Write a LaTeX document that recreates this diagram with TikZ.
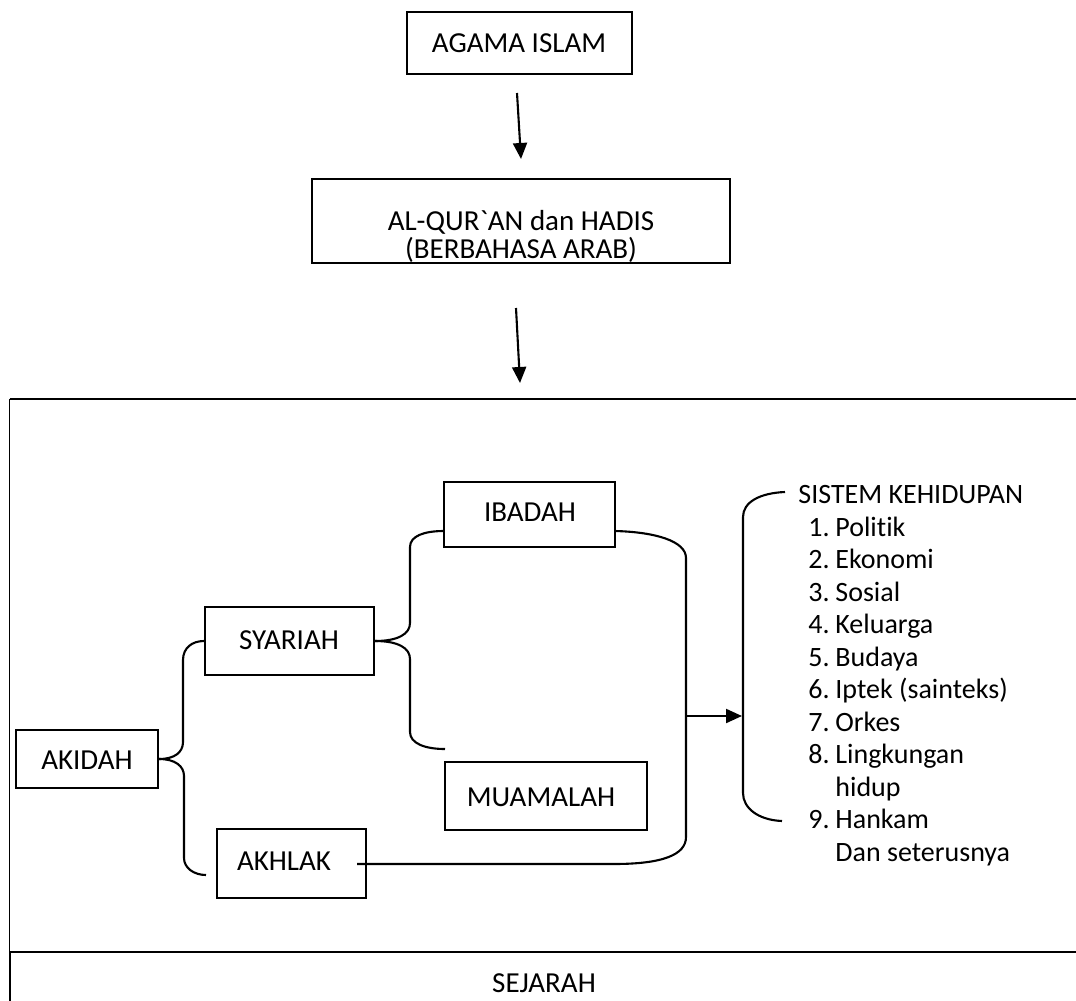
\documentclass[tikz,border=0pt]{standalone}
\usepackage{fontspec}
\setmainfont{Carlito}[Ligatures={TeXOff,NoCommon}]
\usetikzlibrary{arrows.meta}
\begin{document}
\begin{tikzpicture}[x=0.5pt,y=-0.5pt,
  box/.style={draw,line width=1.05pt,inner sep=0pt},
  txt/.style={inner sep=0pt,font=\fontsize{14.5}{14}\selectfont},
  li/.style={anchor=base west,inner sep=0pt,font=\fontsize{14}{16}\selectfont},
  con/.style={line width=1.05pt},
  arr/.style={con,-{Triangle[length=8pt,width=7pt]}}]
\useasboundingbox (0,0) rectangle (1076,1001);

% frame
\draw[line width=1.2pt] (9.5,399) -- (1076,399);
\draw[line width=0.9pt] (9.5,399) -- (9.5,979);
\draw[line width=1pt] (10,952) -- (1076,952);
\draw[line width=0.9pt] (10,952) -- (10,1001);
\node[txt] (sejarah) at (544,983) {SEJARAH};

% boxes
\node[box,minimum width=112.5pt,minimum height=31pt] (agama) at (519.5,43) {};
\node[txt] (agamaT) at (519,43) {AGAMA ISLAM};
\node[box,minimum width=209pt,minimum height=42pt] (quran) at (521,221) {};
\node[txt,align=center] (quranT) at (521,236) {AL-QUR\symbol{96}AN dan HADIS\\(BERBAHASA ARAB)};
\node[box,minimum width=85.5pt,minimum height=32.5pt] (ibadah) at (529.5,514.5) {};
\node[txt] (ibadahT) at (530,512) {IBADAH};
\node[box,minimum width=84.5pt,minimum height=34pt] (syariah) at (289.5,641) {};
\node[txt] (syariahT) at (289,640) {SYARIAH};
\node[box,minimum width=71pt,minimum height=29pt] (akidah) at (87,759) {};
\node[txt] (akidahT) at (87,760) {AKIDAH};
\node[box,minimum width=101pt,minimum height=34pt] (muamalah) at (546,796) {};
\node[txt] (muamalahT) at (541,797) {MUAMALAH};
\node[box,minimum width=74.5pt,minimum height=34.5pt] (akhlak) at (291.5,863.5) {};
\node[txt] (akhlakT) at (284,861) {AKHLAK};

% list
\node[li] (l0) at (798,503.5) {SISTEM KEHIDUPAN};
\node[li] (l1) at (808,536) {\makebox[13.5pt][l]{1.}Politik};
\node[li] (l2) at (808,568.5) {\makebox[13.5pt][l]{2.}Ekonomi};
\node[li] (l3) at (808,601) {\makebox[13.5pt][l]{3.}Sosial};
\node[li] (l4) at (808,633.5) {\makebox[13.5pt][l]{4.}Keluarga};
\node[li] (l5) at (808,666) {\makebox[13.5pt][l]{5.}Budaya};
\node[li] (l6) at (808,698.5) {\makebox[13.5pt][l]{6.}Iptek (sainteks)};
\node[li] (l7) at (808,731) {\makebox[13.5pt][l]{7.}Orkes};
\node[li] (l8) at (808,763.5) {\makebox[13.5pt][l]{8.}Lingkungan};
\node[li] (l9) at (835,796) {hidup};
\node[li] (l10) at (808,828.5) {\makebox[13.5pt][l]{9.}Hankam};
\node[li] (l11) at (835,861) {Dan seterusnya};

% coordinates
\coordinate (a1s) at (517,93);
\coordinate (a1e) at (521,159);
\coordinate (a2s) at (516,308);
\coordinate (a2e) at (520,383);
\coordinate (akhIn) at (206,875);
\coordinate (ibIn) at (444,531);
\coordinate (muIn) at (445,749);
\coordinate (ibOut) at (615,531);
\coordinate (akOut) at (357,864);
\coordinate (join) at (686,716);
\coordinate (sisIn) at (742,716);
\coordinate (sisTop) at (785,492);
\coordinate (sisBot) at (782,821);

% arrows
\draw[arr] (a1s) -- (a1e);
\draw[arr] (a2s) -- (a2e);

% akidah brace
\draw[con] (akidah.east) .. controls (175,759) and (183,752) .. (183,742) -- (183,660)
  .. controls (183,648) and (192,641) .. (syariah.west);
\draw[con] (akidah.east) .. controls (175,759) and (184,766) .. (184,776) -- (184,858)
  .. controls (184,868) and (194,875) .. (akhIn);

% syariah brace
\draw[con] (syariah.east) .. controls (398,641) and (410,634) .. (410,623) -- (410,547)
  .. controls (410,536) and (424,531) .. (ibIn);
\draw[con] (syariah.east) .. controls (398,641) and (410,648) .. (410,659) -- (410,732)
  .. controls (410,743) and (424,749) .. (muIn);

% ibadah/akhlak bracket
\draw[con] (ibOut) .. controls (655,532) and (686,541) .. (686,558) -- (686,837)
  .. controls (686,855) and (662,864) .. (614,864) -- (akOut);
\draw[arr] (join) -- (sisIn);

% sistem bracket
\draw[con] (sisTop) .. controls (760,493) and (743,502) .. (743,517) -- (743,793)
  .. controls (743,808) and (758,820) .. (sisBot);
\end{tikzpicture}
\end{document}
